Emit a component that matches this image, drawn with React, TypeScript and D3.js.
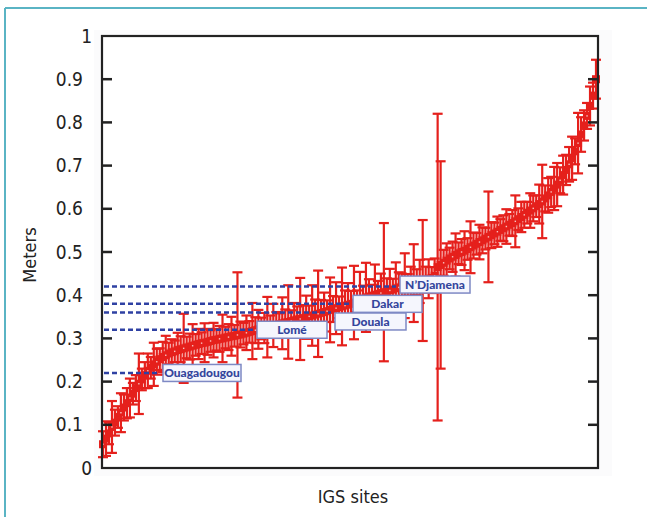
import React from "react";
import * as d3 from "d3";

// ---- data (sites sorted by value) ----
const siteValues = [
  0.055, 0.068, 0.08, 0.095, 0.105, 0.118, 0.128, 0.14, 0.15, 0.162,
  0.172, 0.185, 0.195, 0.205, 0.215, 0.225, 0.232, 0.24, 0.246, 0.252,
  0.257, 0.261, 0.265, 0.268, 0.27, 0.273, 0.275, 0.277, 0.279, 0.281,
  0.283, 0.285, 0.287, 0.289, 0.29, 0.292, 0.294, 0.296, 0.297, 0.299,
  0.3, 0.302, 0.303, 0.305, 0.306, 0.308, 0.309, 0.311, 0.313, 0.315,
  0.317, 0.319, 0.321, 0.323, 0.324, 0.326, 0.328, 0.33, 0.331, 0.333,
  0.335, 0.337, 0.338, 0.34, 0.342, 0.344, 0.345, 0.347, 0.349, 0.351,
  0.353, 0.355, 0.357, 0.359, 0.361, 0.363, 0.366, 0.368, 0.37, 0.372,
  0.374, 0.376, 0.378, 0.38, 0.383, 0.386, 0.389, 0.392, 0.395, 0.397,
  0.399, 0.401, 0.403, 0.405, 0.407, 0.409, 0.411, 0.413, 0.416, 0.418,
  0.42, 0.422, 0.424, 0.426, 0.428, 0.43, 0.432, 0.434, 0.436, 0.438,
  0.44, 0.445, 0.465, 0.47, 0.475, 0.48, 0.485, 0.489, 0.493, 0.497,
  0.5, 0.503, 0.507, 0.511, 0.515, 0.519, 0.523, 0.527, 0.531, 0.535,
  0.539, 0.543, 0.547, 0.551, 0.555, 0.559, 0.563, 0.567, 0.571, 0.576,
  0.581, 0.586, 0.591, 0.596, 0.601, 0.606, 0.611, 0.617, 0.624, 0.631,
  0.639, 0.647, 0.656, 0.666, 0.678, 0.69, 0.703, 0.717, 0.733, 0.752,
  0.772, 0.793, 0.815, 0.838, 0.862, 0.9,
];

const siteErrors = [
  0.03, 0.04, 0.025, 0.06, 0.03, 0.025, 0.045, 0.03, 0.035, 0.045,
  0.025, 0.03, 0.07, 0.025, 0.03, 0.04, 0.025, 0.05, 0.03, 0.025,
  0.035, 0.045, 0.025, 0.03, 0.025, 0.04, 0.03, 0.08, 0.025, 0.03,
  0.05, 0.025, 0.035, 0.025, 0.045, 0.03, 0.025, 0.04, 0.025, 0.03,
  0.055, 0.025, 0.03, 0.045, 0.025, 0.145, 0.03, 0.025, 0.04, 0.025,
  0.065, 0.03, 0.045, 0.025, 0.035, 0.07, 0.025, 0.05, 0.03, 0.025,
  0.06, 0.03, 0.085, 0.025, 0.04, 0.03, 0.095, 0.03, 0.05, 0.025,
  0.07, 0.035, 0.1, 0.03, 0.045, 0.025, 0.075, 0.03, 0.06, 0.025,
  0.09, 0.035, 0.05, 0.03, 0.085, 0.025, 0.065, 0.03, 0.08, 0.04,
  0.025, 0.07, 0.03, 0.045, 0.16, 0.03, 0.05, 0.025, 0.06, 0.035,
  0.03, 0.075, 0.025, 0.04, 0.09, 0.03, 0.05, 0.14, 0.03, 0.045,
  0.025, 0.04, 0.355, 0.24, 0.03, 0.04, 0.025, 0.035, 0.05, 0.025,
  0.03, 0.045, 0.025, 0.06, 0.03, 0.025, 0.04, 0.03, 0.025, 0.105,
  0.03, 0.025, 0.035, 0.025, 0.03, 0.04, 0.025, 0.03, 0.06, 0.025,
  0.035, 0.03, 0.025, 0.04, 0.03, 0.025, 0.045, 0.085, 0.03, 0.04,
  0.035, 0.05, 0.05, 0.03, 0.045, 0.035, 0.04, 0.05, 0.03, 0.07,
  0.04, 0.035, 0.03, 0.045, 0.03, 0.045,
];

const yTickValues = [0, 0.1, 0.2, 0.3, 0.4, 0.5, 0.6, 0.7, 0.8, 0.9, 1];
const yTickLabels = ["0", "0.1", "0.2", "0.3", "0.4", "0.5", "0.6", "0.7", "0.8", "0.9", "1"];

const cityNames = ["Ouagadougou", "Lomé", "Douala", "Dakar", "N’Djamena"];
const cityValues = [0.22, 0.32, 0.36, 0.38, 0.42];

const xLabel = "IGS sites";
const yLabel = "Meters";

// ---- layout ----
const W = 647;
const H = 517;
const box = { left: 102, right: 598, top: 36, bottom: 468 };
const cityBoxLeft = [163, 257, 335, 353, 400];
const cityBoxWidth = [78, 70, 71, 69, 70];
const cityBoxDy = [0, 0, 9, 0, -2];
const RED = "#e5201c";
const BLUE = "#2f41a3";
const NARROW = "'Liberation Sans Narrow', 'DejaVu Sans Condensed', sans-serif";

export default function App() {
  const n = siteValues.length;
  const x = d3.scaleLinear().domain([0, n - 1]).range([box.left + 1, box.right - 2]);
  const y = d3.scaleLinear().domain([0, 1]).range([box.bottom, box.top]);
  const cap = 5;

  return (
    <svg width={W} height={H} style={{ position: "absolute", left: 0, top: 0, background: "#fff" }}>
      {/* outer teal frame */}
      <line x1={5} y1={8} x2={W} y2={8} stroke="#5ab4c4" strokeWidth={2} />
      <line x1={5} y1={8} x2={5} y2={H} stroke="#5ab4c4" strokeWidth={2} />

      {/* plot image background */}
      <rect x={94} y={30} width={518} height={446} fill="#fbfbfc" />
      <rect x={box.left} y={box.top} width={box.right - box.left} height={box.bottom - box.top} fill="#fff" />

      {/* error bars */}
      <g stroke={RED} strokeWidth={2.2} fill="none">
        {siteValues.map((v, i) => {
          const cx = x(i);
          const hi = y(v + siteErrors[i]);
          const lo = y(v - siteErrors[i]);
          return (
            <g key={i}>
              <line x1={cx} x2={cx} y1={hi} y2={lo} />
              <line x1={cx - cap} x2={cx + cap} y1={hi} y2={hi} />
              <line x1={cx - cap} x2={cx + cap} y1={lo} y2={lo} />
            </g>
          );
        })}
      </g>
      {/* markers */}
      <g stroke={RED} strokeWidth={2} fill={RED}>
        {siteValues.map((v, i) => (
          <rect key={i} x={x(i) - 3} y={y(v) - 3} width={6} height={6} />
        ))}
      </g>
      <g fill="#f7c4c2">
        {siteValues.map((v, i) =>
          i % 3 === 0 ? <rect key={i} x={x(i) - 0.7} y={y(v) - 0.7} width={1.4} height={1.4} /> : null
        )}
      </g>

      {/* dashed reference lines and city labels */}
      {cityNames.map((name, k) => {
        const ly = y(cityValues[k]);
        const bx = cityBoxLeft[k];
        const by = ly + cityBoxDy[k];
        return (
          <g key={name}>
            <line
              x1={box.left + 2}
              x2={bx - 4}
              y1={ly}
              y2={ly}
              stroke={BLUE}
              strokeWidth={2.5}
              strokeDasharray="5,3"
            />
            <rect
              x={bx}
              y={by - 8.5}
              width={cityBoxWidth[k]}
              height={17}
              fill="#f5f6fd"
              stroke="#7e89c4"
              strokeWidth={1.5}
            />
            <text
              x={bx + cityBoxWidth[k] / 2}
              y={by}
              dy="0.36em"
              textAnchor="middle"
              fontFamily="Lato, 'Open Sans', sans-serif"
              fontWeight={900}
              fontSize={12}
              fill="#34459c"
            >
              {name}
            </text>
          </g>
        );
      })}

      {/* frame */}
      <rect
        x={box.left}
        y={box.top}
        width={box.right - box.left}
        height={box.bottom - box.top}
        fill="none"
        stroke="#222"
        strokeWidth={2.2}
      />
      {/* ticks */}
      <g stroke="#222" strokeWidth={2.5}>
        {yTickValues.filter((t) => t > 0 && t < 1).map((t) => (
          <g key={t}>
            <line x1={box.left} x2={box.left + 10} y1={y(t)} y2={y(t)} />
            <line x1={box.right - 10} x2={box.right} y1={y(t)} y2={y(t)} />
          </g>
        ))}
      </g>
      {/* tick labels */}
      <g fontFamily={NARROW} fontSize={19} fill="#222">
        {yTickValues.map((t, i) => (
          <text
            key={t}
            x={yTickLabels[i].length > 1 ? 83 : 92}
            y={y(t)}
            dy="0.35em"
            textAnchor="end"
          >
            {yTickLabels[i]}
          </text>
        ))}
      </g>

      {/* axis titles */}
      <text x={353} y={497} dy="0.35em" textAnchor="middle" fontFamily={NARROW} fontSize={18} fill="#222">
        {xLabel}
      </text>
      <text
        transform={`translate(30,255) rotate(-90)`}
        dy="0.35em"
        textAnchor="middle"
        fontFamily={NARROW}
        fontSize={18}
        fill="#222"
      >
        {yLabel}
      </text>
    </svg>
  );
}
